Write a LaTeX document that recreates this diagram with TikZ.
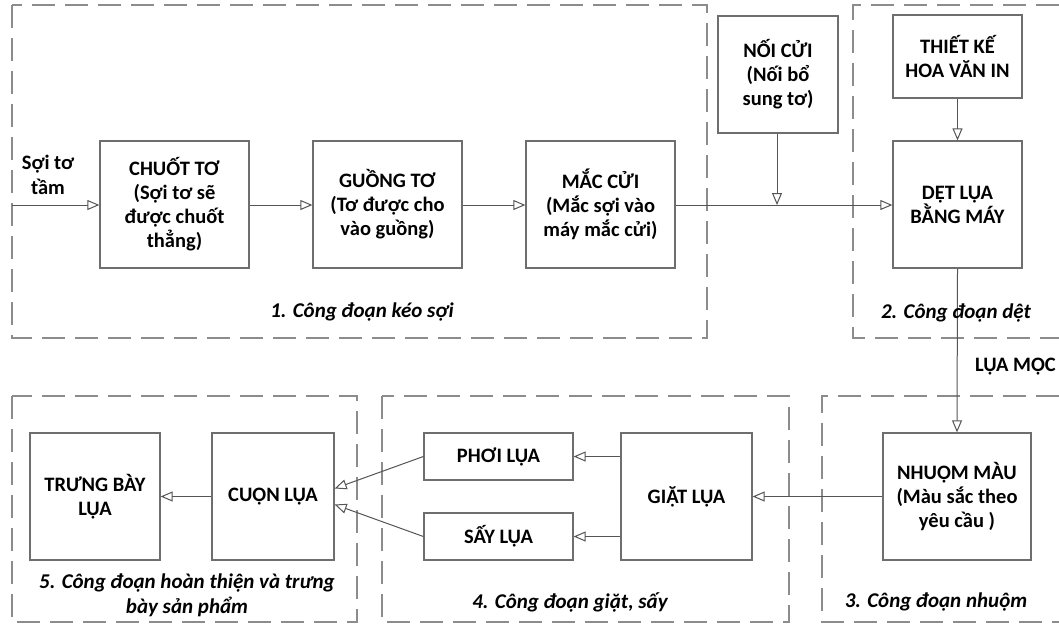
\documentclass[tikz,border=0pt]{standalone}
\usepackage{fontspec}
\setmainfont{Carlito}
\usetikzlibrary{arrows.meta}
\definecolor{boxgray}{HTML}{6E6E6E}
\definecolor{linegray}{HTML}{555555}
\definecolor{dashgray}{HTML}{8C8C8C}
\begin{document}
\begin{tikzpicture}[x=1pt,y=-1pt,
  proc/.style={draw=boxgray, line width=1.3pt, fill=white, align=center, inner sep=0pt,
    font=\bfseries\fontsize{20.5}{24}\selectfont},
  stage/.style={draw=dashgray, line width=1.8pt, dash pattern=on 23pt off 10pt},
  flow/.style={draw=linegray, line width=1pt, -{Triangle[open, length=12pt, width=10pt]}},
  stagecap/.style={font=\bfseries\itshape\fontsize{21}{25}\selectfont, align=center, inner sep=0pt},
  lbl/.style={font=\bfseries\fontsize{20.5}{25}\selectfont, align=center, inner sep=0pt}
]
\useasboundingbox (0,0) rectangle (1059,625);
\fill[white] (0,0) rectangle (1059,625);

% stage frames
\draw[stage] (12,5) rectangle (707,338);
\draw[stage] (1059,5) -- (853,5) -- (853,338) -- (1059,338);
\draw[stage] (1059,396) -- (822,396) -- (822,622) -- (1059,622);
\draw[stage] (382,396) rectangle (789,622);
\draw[stage] (12,396) rectangle (357,622);

% process boxes
\node[proc, minimum width=149pt, minimum height=127pt] (chuot) at (174.5,204.5) {CHUỐT TƠ\\(Sợi tơ sẽ\\được chuốt\\thẳng)};
\node[proc, minimum width=149pt, minimum height=127pt] (guong) at (387.5,204.5) {GUỒNG TƠ\\(Tơ được cho\\vào guồng)};
\node[proc, minimum width=149pt, minimum height=127pt] (mac) at (600.5,204.5) {MẮC CỬI\\(Mắc sợi vào\\máy mắc cửi)};
\node[proc, minimum width=120pt, minimum height=117pt] (noi) at (778,74.5) {NỐI CỬI\\(Nối bổ\\sung tơ)};
\node[proc, minimum width=129pt, minimum height=83pt] (thiet) at (957.5,56.5) {THIẾT KẾ\\HOA VĂN IN};
\node[proc, minimum width=129pt, minimum height=127pt] (det) at (957.5,204.5) {DỆT LỤA\\BẰNG MÁY};
\node[proc, minimum width=148pt, minimum height=127pt] (nhuom) at (957,496.5) {NHUỘM MÀU\\(Màu sắc theo\\yêu cầu )};
\node[proc, minimum width=131pt, minimum height=127pt] (giat) at (686.5,496.5) {GIẶT LỤA};
\node[proc, minimum width=149pt, minimum height=47pt] (phoi) at (498.5,456.5) {PHƠI LỤA};
\node[proc, minimum width=149pt, minimum height=47pt] (say) at (498.5,536.5) {SẤY LỤA};
\node[proc, minimum width=122pt, minimum height=127pt] (cuon) at (273,496.5) {CUỘN LỤA};
\node[proc, minimum width=130pt, minimum height=127pt] (trung) at (95,496.5) {TRƯNG BÀY\\LỤA};

% connectors
\coordinate (in) at (12,205);
\coordinate (join) at (777,205);
\draw[flow] (in) -- (chuot.west |- in);
\draw[flow] (chuot.east |- in) -- (guong.west |- in);
\draw[flow] (guong.east |- in) -- (mac.west |- in);
\draw[flow] (mac.east |- in) -- (det.west |- in);
\draw[flow] (noi.south -| join) -- (join);
\draw[flow] (thiet.south) -- (det.north);
\draw[flow] (det.south) -- (nhuom.north);
\draw[flow] (nhuom.west) -- (giat.east);
\draw[flow] (giat.west |- phoi.east) -- (phoi.east);
\draw[flow] (giat.west |- say.east) -- (say.east);
\draw[flow] (phoi.west) -- ([yshift=8pt]cuon.east);
\draw[flow] (say.west) -- ([yshift=-8pt]cuon.east);
\draw[flow] (cuon.west) -- (trung.east);

% labels
\node[lbl] (soi) at (48,174.5) {Sợi tơ\\tầm};
\node[lbl, anchor=east] (moc) at (1056,367) {LỤA MỘC};
\node[stagecap] (c1) at (362,312) {1. Công đoạn kéo sợi};
\node[stagecap] (c2) at (956,313) {2. Công đoạn dệt};
\node[stagecap] (c3) at (936,602) {3. Công đoạn nhuộm};
\node[stagecap] (c4) at (570,602) {4. Công đoạn giặt, sấy};
\node[stagecap] (c5) at (187,595.5) {5. Công đoạn hoàn thiện và trưng\\bày sản phẩm};
\end{tikzpicture}
\end{document}
